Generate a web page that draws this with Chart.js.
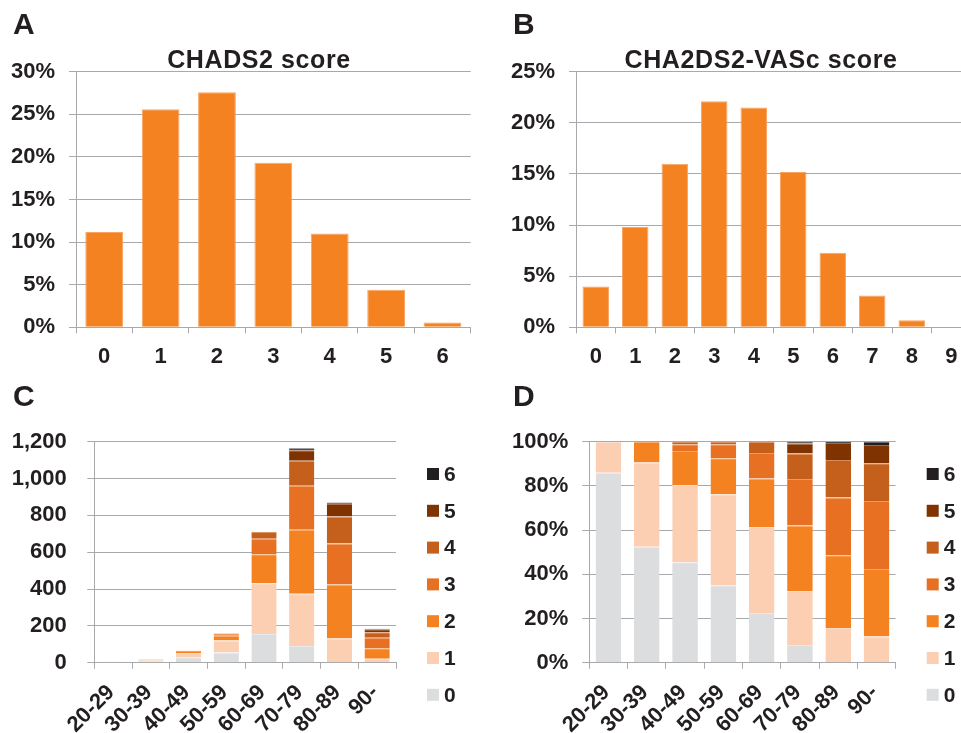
<!DOCTYPE html>
<html>
<head>
<meta charset="utf-8">
<title>CHADS2 and CHA2DS2-VASc score distribution</title>
<script src="https://cdn.jsdelivr.net/npm/chart.js@4.4.1/dist/chart.umd.min.js"></script>
<style>
  body { margin: 0; background: #fff; overflow: hidden; }
  #page {
    position: relative; width: 961px; height: 733px; overflow: hidden;
    font-family: 'Liberation Sans', Arial, Helvetica, sans-serif; color: #231f20;
  }
  canvas { position: absolute; }
  .letter { position: absolute; font-size: 30px; font-weight: bold; line-height: 30px; }
  .title {
    position: absolute; font-size: 25px; font-weight: bold; line-height: 25px;
    letter-spacing: 0.6px; white-space: nowrap; transform: translateX(-50%);
  }
</style>
</head>
<body>
<div id="page">
  <canvas id="chartA" width="480" height="380" style="left:0;top:0"></canvas>
  <canvas id="chartB" width="491" height="380" style="left:480px;top:0"></canvas>
  <canvas id="chartC" width="480" height="353" style="left:0;top:380px"></canvas>
  <canvas id="chartD" width="481" height="353" style="left:480px;top:380px"></canvas>

  <div class="letter" style="left:13px;top:9px">A</div>
  <div class="letter" style="left:513px;top:9px">B</div>
  <div class="letter" style="left:13px;top:381px">C</div>
  <div class="letter" style="left:513px;top:381px">D</div>
  <div class="title" style="left:259px;top:47px">CHADS2 score</div>
  <div class="title" style="left:761px;top:47px">CHA2DS2-VASc score</div>
</div>

<script>
// ---- data ----
const chadsScores = ['0', '1', '2', '3', '4', '5', '6'];
const chadsShare = [11.2, 25.6, 27.6, 19.3, 11.0, 4.4, 0.55];   // % of patients

const vascScores = ['0', '1', '2', '3', '4', '5', '6', '7', '8', '9'];
const vascShare = [4.0, 9.8, 16.0, 22.1, 21.5, 15.2, 7.3, 3.1, 0.7, 0];  // % of patients

const ageGroups = ['20-29', '30-39', '40-49', '50-59', '60-69', '70-79', '80-89', '90-'];
const scoreLabels = ['0', '1', '2', '3', '4', '5', '6'];

// patients per age group, split by CHADS2 score (panel C)
const countScore0 = [5, 11, 30, 55, 156, 91, 0, 0];
const countScore1 = [1, 7, 23, 65, 275, 284, 132, 22];
const countScore2 = [0, 2, 10, 26, 158, 347, 292, 56];
const countScore3 = [0, 0, 2, 10, 84, 239, 223, 57];
const countScore4 = [0, 0, 1, 2, 38, 136, 147, 31];
const countScore5 = [0, 0, 0, 0, 0, 56, 69, 15];
const countScore6 = [0, 0, 0, 0, 0, 11, 7, 3];

// share within each age group (panel D), %
const pctScore0 = [86.0, 52.5, 45.4, 35.1, 22.5, 8.0, 0, 0];
const pctScore1 = [14.0, 38.1, 35.0, 41.1, 38.9, 24.4, 15.7, 11.8];
const pctScore2 = [0, 9.4, 15.4, 16.3, 22.0, 29.7, 32.9, 30.6];
const pctScore3 = [0, 0, 3.0, 6.3, 11.5, 21.0, 26.2, 30.8];
const pctScore4 = [0, 0, 1.2, 1.2, 5.1, 11.6, 16.9, 17.1];
const pctScore5 = [0, 0, 0, 0, 0, 4.5, 7.7, 8.2];
const pctScore6 = [0, 0, 0, 0, 0, 0.8, 0.6, 1.5];

// ---- styling ----
const FONT = "'Liberation Sans', Arial, Helvetica, sans-serif";
const TEXT = '#231f20';
const GRID = '#a7a9ac';
const ORANGE = '#f58220';
const ORANGE_EDGE = '#f8a462';
const scoreColors = ['#dcdddf', '#fccfb3', '#f58220', '#e87022', '#c55f1c', '#7f3300', '#231f20'];
const scoreEdges = ['#e8e9ea', '#fddcc8', '#f8a462', '#ee9a60', '#d68b5a', '#a56640', '#5a5758'];

Chart.defaults.font.family = FONT;
Chart.defaults.color = TEXT;

// Vertical legend drawn to the right of the plot, highest score on top
const sideLegend = {
    id: 'sideLegend',
    afterDraw(chart, args, opts) {
        if (!opts || !opts.display) return;
        const ctx = chart.ctx;
        const area = chart.chartArea;
        const sets = chart.data.datasets;
        ctx.save();
        ctx.font = 'bold 21px ' + FONT;
        ctx.textBaseline = 'middle';
        ctx.textAlign = 'left';
        for (let i = sets.length - 1, row = 0; i >= 0; i--, row++) {
            const y = area.top + opts.offsetY + row * opts.spacing;
            const x = area.right + opts.offsetX;
            ctx.fillStyle = sets[i].backgroundColor;
            ctx.fillRect(x, y - 6, 12, 12);
            ctx.fillStyle = TEXT;
            ctx.fillText(sets[i].label, x + 17, y + 1);
        }
        ctx.restore();
    }
};

/**
 * Build shared options for one panel
 */
function panelOptions(geo) {
    return {
        responsive: false,
        animation: false,
        layout: { padding: { top: geo.top, right: geo.right, left: 0, bottom: 0 } },
        plugins: {
            legend: { display: false },
            tooltip: { enabled: false },
            sideLegend: geo.legend || { display: false }
        },
        scales: {
            x: {
                stacked: !!geo.stacked,
                grid: { display: true, drawOnChartArea: false, drawTicks: true, tickLength: 6, color: GRID, offset: true },
                border: { color: GRID, width: 1 },
                ticks: {
                    padding: geo.xPad,
                    labelOffset: geo.labelOffset || 0,
                    minRotation: geo.rotation || 0,
                    maxRotation: geo.rotation || 0,
                    autoSkip: false,
                    font: { size: 22, weight: 'bold' },
                    color: TEXT
                },
                afterFit: function(scale) { scale.height = geo.xHeight; }
            },
            y: {
                stacked: !!geo.stacked,
                min: 0,
                max: geo.max,
                grid: { color: GRID, lineWidth: 1, tickLength: 7 },
                border: { color: GRID, width: 1 },
                ticks: {
                    stepSize: geo.step,
                    padding: geo.yPad,
                    font: { size: 22, weight: 'bold' },
                    color: TEXT,
                    callback: geo.format
                },
                afterFit: function(scale) { scale.width = geo.yWidth; }
            }
        }
    };
}

function singleBar(values) {
    return [{
        data: values,
        backgroundColor: ORANGE,
        borderColor: ORANGE_EDGE,
        borderWidth: { top: 1, left: 1, right: 1, bottom: 0 },
        categoryPercentage: 0.67,
        barPercentage: 1
    }];
}

function stackedBars(series) {
    return series.map((values, i) => ({
        label: scoreLabels[i],
        data: values,
        backgroundColor: scoreColors[i],
        borderColor: scoreEdges[i],
        borderWidth: { top: 1, left: 0, right: 0, bottom: 0 },
        categoryPercentage: 0.67,
        barPercentage: 1
    }));
}

const pct = v => v + '%';
const legendGeo = { display: true, offsetX: 31, offsetY: 32.3, spacing: 36.8 };

// Panel A
new Chart(document.getElementById('chartA'), {
    type: 'bar',
    data: { labels: chadsScores, datasets: singleBar(chadsShare) },
    options: panelOptions({ top: 71.7, right: 9.3, xHeight: 52.7, yWidth: 76, xPad: 10, yPad: 14, max: 30, step: 5, format: pct })
});

// Panel B (plot runs past the right edge, as in the figure)
new Chart(document.getElementById('chartB'), {
    type: 'bar',
    data: { labels: vascScores, datasets: singleBar(vascShare) },
    options: panelOptions({ top: 71.7, right: 0, xHeight: 52.7, yWidth: 96, xPad: 10, yPad: 14, max: 25, step: 5, format: pct })
});

// Panel C
new Chart(document.getElementById('chartC'), {
    type: 'bar',
    data: {
        labels: ageGroups,
        datasets: stackedBars([countScore0, countScore1, countScore2, countScore3, countScore4, countScore5, countScore6])
    },
    plugins: [sideLegend],
    options: panelOptions({
        stacked: true, top: 61.7, right: 84, xHeight: 70.3, yWidth: 94.3, xPad: 11, yPad: 20.6,
        rotation: 45, labelOffset: -2, max: 1200, step: 200,
        format: v => v.toLocaleString('en-US'), legend: legendGeo
    })
});

// Panel D
new Chart(document.getElementById('chartD'), {
    type: 'bar',
    data: {
        labels: ageGroups,
        datasets: stackedBars([pctScore0, pctScore1, pctScore2, pctScore3, pctScore4, pctScore5, pctScore6])
    },
    plugins: [sideLegend],
    options: panelOptions({
        stacked: true, top: 61.7, right: 65.3, xHeight: 70.3, yWidth: 109.3, xPad: 11, yPad: 14,
        rotation: 45, labelOffset: -2, max: 100, step: 20, format: pct, legend: legendGeo
    })
});
</script>
</body>
</html>
